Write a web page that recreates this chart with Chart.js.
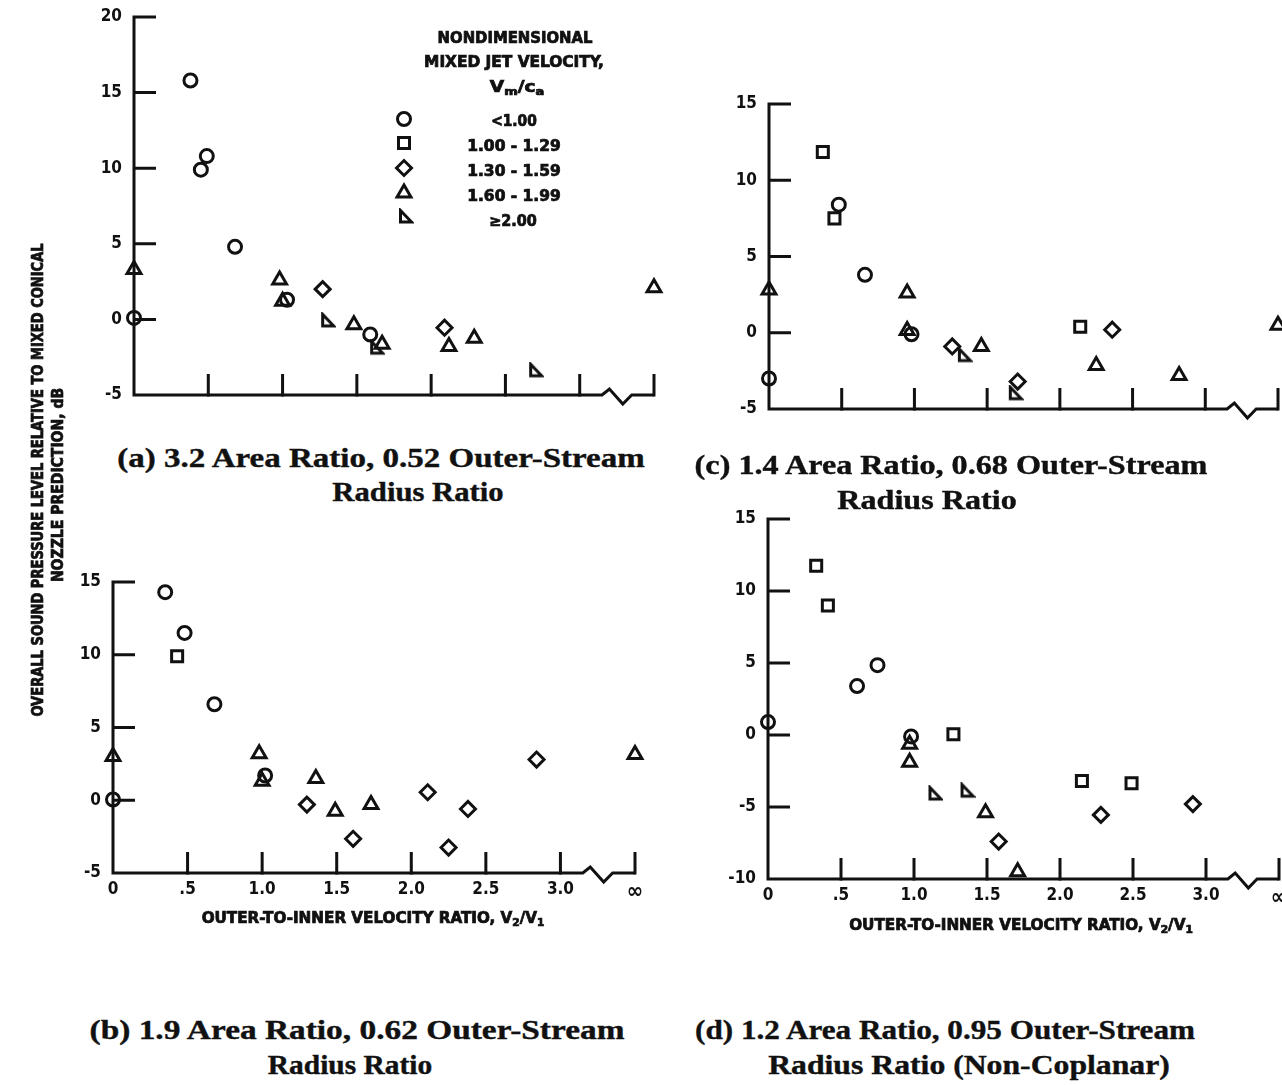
<!DOCTYPE html>
<html><head><meta charset="utf-8">
<script src="https://cdn.jsdelivr.net/npm/chart.js"></script>
<style>
html,body{margin:0;padding:0;background:#fff;}
body{width:1282px;height:1085px;position:relative;overflow:hidden;}
.box{position:absolute;}
.t{position:absolute;white-space:nowrap;color:#111;line-height:1;}
.cap{font-family:'Liberation Serif','Times New Roman',serif;font-weight:bold;font-size:28px;-webkit-text-stroke:0.4px #111;}
.sans{font-family:'DejaVu Sans Condensed','DejaVu Sans',sans-serif;font-weight:bold;font-size:15px;-webkit-text-stroke:0.7px #111;}
.sans sub{font-size:0.7em;vertical-align:-0.3em;line-height:0;}
</style></head><body>

<div class="box" style="left:60px;top:0px;"><canvas id="ca" width="640" height="420"></canvas></div>
<div class="box" style="left:700px;top:60px;"><canvas id="cc" width="582" height="380"></canvas></div>
<div class="box" style="left:40px;top:540px;"><canvas id="cb" width="620" height="400"></canvas></div>
<div class="box" style="left:700px;top:480px;"><canvas id="cd" width="582" height="470"></canvas></div>

<!-- legend text -->
<div class="t sans" data-cx="515" data-cy="38" data-w="155">NONDIMENSIONAL</div>
<div class="t sans" data-cx="514" data-cy="62" data-w="180">MIXED JET VELOCITY,</div>
<div class="t sans" data-cx="517" data-cy="87" data-w="55">V<sub>m</sub>/c<sub>a</sub></div>
<div class="t sans" data-cx="514" data-cy="121" data-w="46">&lt;1.00</div>
<div class="t sans" data-cx="514" data-cy="146" data-w="94">1.00 - 1.29</div>
<div class="t sans" data-cx="514" data-cy="171" data-w="94">1.30 - 1.59</div>
<div class="t sans" data-cx="514" data-cy="196" data-w="94">1.60 - 1.99</div>
<div class="t sans" data-cx="513" data-cy="221" data-w="48">≥2.00</div>

<!-- y axis title -->
<div class="t sans" data-cx="38" data-cy="480" data-w="473" data-rot="-90">OVERALL SOUND PRESSURE LEVEL RELATIVE TO MIXED CONICAL</div>
<div class="t sans" data-cx="58" data-cy="485" data-w="194" data-rot="-90">NOZZLE PREDICTION, dB</div>

<!-- x axis titles -->
<div class="t sans" data-cx="373" data-cy="918" data-w="343">OUTER-TO-INNER VELOCITY RATIO, V<sub>2</sub>/V<sub>1</sub></div>
<div class="t sans" data-cx="1021" data-cy="925" data-w="344">OUTER-TO-INNER VELOCITY RATIO, V<sub>2</sub>/V<sub>1</sub></div>

<!-- captions -->
<div class="t cap" data-cx="381" data-cy="458" data-w="527">(a) 3.2 Area Ratio, 0.52 Outer-Stream</div>
<div class="t cap" data-cx="418" data-cy="492" data-w="171">Radius Ratio</div>
<div class="t cap" data-cx="951" data-cy="465" data-w="513">(c) 1.4 Area Ratio, 0.68 Outer-Stream</div>
<div class="t cap" data-cx="927" data-cy="500" data-w="179">Radius Ratio</div>
<div class="t cap" data-cx="357" data-cy="1030" data-w="535">(b) 1.9 Area Ratio, 0.62 Outer-Stream</div>
<div class="t cap" data-cx="350" data-cy="1065" data-w="164">Radius Ratio</div>
<div class="t cap" data-cx="945" data-cy="1030" data-w="500">(d) 1.2 Area Ratio, 0.95 Outer-Stream</div>
<div class="t cap" data-cx="969" data-cy="1065" data-w="402">Radius Ratio (Non-Coplanar)</div>

<script>
// ---------------- DATA ----------------
const categories = ['<1.00', '1.00 - 1.29', '1.30 - 1.59', '1.60 - 1.99', '≥2.00'];
const xTickValues = [0, 0.5, 1.0, 1.5, 2.0, 2.5, 3.0, 3.5];
const xTickLabels = ['0', '.5', '1.0', '1.5', '2.0', '2.5', '3.0', '∞'];
const INF = 3.5; // x position used for the "∞" column

// panel (a) 3.2 area ratio
const aCircle   = [{x:0,y:0.1},{x:0.38,y:15.8},{x:0.45,y:9.9},{x:0.49,y:10.8},{x:0.68,y:4.8},{x:1.03,y:1.3},{x:1.59,y:-1.0}];
const aSquare   = [];
const aDiamond  = [{x:1.27,y:2.0},{x:2.09,y:-0.55}];
const aTriangle = [{x:0,y:3.3},{x:0.98,y:2.6},{x:1.0,y:1.2},{x:1.48,y:-0.35},{x:1.67,y:-1.65},{x:2.12,y:-1.8},{x:2.29,y:-1.25},{x:INF,y:2.1}];
const aFlag     = [{x:1.30,y:-0.1},{x:1.63,y:-1.9},{x:2.70,y:-3.4}];

// panel (c) 1.4 area ratio
const cCircle   = [{x:0,y:-3.0},{x:0.48,y:8.4},{x:0.66,y:3.8},{x:0.98,y:-0.1}];
const cSquare   = [{x:0.37,y:11.85},{x:0.45,y:7.5},{x:2.14,y:0.4}];
const cDiamond  = [{x:1.26,y:-0.9},{x:1.71,y:-3.2},{x:2.36,y:0.2}];
const cTriangle = [{x:0,y:2.8},{x:0.95,y:2.6},{x:0.95,y:0.15},{x:1.46,y:-0.9},{x:2.25,y:-2.15},{x:2.82,y:-2.8},{x:INF,y:0.5}];
const cFlag     = [{x:1.34,y:-1.5},{x:1.69,y:-4.0}];

// panel (b) 1.9 area ratio
const bCircle   = [{x:0,y:0.05},{x:0.35,y:14.3},{x:0.48,y:11.5},{x:0.68,y:6.6},{x:1.02,y:1.7}];
const bSquare   = [{x:0.43,y:9.9}];
const bDiamond  = [{x:1.30,y:-0.3},{x:1.61,y:-2.65},{x:2.11,y:0.55},{x:2.25,y:-3.25},{x:2.38,y:-0.6},{x:2.84,y:2.8}];
const bTriangle = [{x:0,y:3.0},{x:0.98,y:3.2},{x:1.0,y:1.3},{x:1.36,y:1.5},{x:1.49,y:-0.75},{x:1.73,y:-0.3},{x:INF,y:3.15}];
const bFlag     = [];

// panel (d) 1.2 area ratio, non-coplanar
const dCircle   = [{x:0,y:0.9},{x:0.61,y:3.4},{x:0.75,y:4.85},{x:0.98,y:-0.1}];
const dSquare   = [{x:0.33,y:11.75},{x:0.41,y:9.0},{x:1.27,y:0.05},{x:2.15,y:-3.2},{x:2.49,y:-3.35}];
const dDiamond  = [{x:1.58,y:-7.4},{x:2.28,y:-5.55},{x:2.91,y:-4.8}];
const dTriangle = [{x:0.97,y:-0.65},{x:0.97,y:-1.9},{x:1.49,y:-5.4},{x:1.71,y:-9.5}];
const dFlag     = [{x:1.14,y:-4.1},{x:1.36,y:-3.9}];

// ---------------- STYLE ----------------
const INK = '#111';
const FAMILY = "'Liberation Sans Narrow','DejaVu Sans Condensed','DejaVu Sans',sans-serif";
const TICK_FONT = {family: FAMILY, size: 17, weight: 'bold'};
const INF_FONT = {family: FAMILY, size: 22, weight: 'bold'};
const LW = 3;

function makeFlag(){
  const c = document.createElement('canvas'); c.width = 18; c.height = 18;
  const g = c.getContext('2d');
  g.strokeStyle = INK; g.lineWidth = LW; g.lineJoin = 'miter';
  g.beginPath(); g.moveTo(4.5,2.5); g.lineTo(4.5,14); g.lineTo(15.5,14); g.closePath(); g.stroke();
  return c;
}
const FLAG = makeFlag();
const pointStyles = ['circle','rect','rectRot','triangle',FLAG];
const pointRadii  = [6.5, 7.8, 7.5, 8, 8];

function drawSymbol(ctx, i, x, y){
  const st = pointStyles[i];
  ctx.save();
  ctx.strokeStyle = INK; ctx.fillStyle = 'rgba(0,0,0,0)'; ctx.lineWidth = LW;
  if (typeof st !== 'string') { ctx.drawImage(st, x - st.width/2, y - st.height/2); ctx.restore(); return; }
  if (Chart.helpers && Chart.helpers.drawPoint) {
    Chart.helpers.drawPoint(ctx, {pointStyle: st, rotation: 0, radius: pointRadii[i], borderWidth: LW}, x, y);
  } else {
    const r = pointRadii[i];
    ctx.beginPath();
    if (st === 'circle') ctx.arc(x, y, r, 0, Math.PI*2);
    else if (st === 'rect') { const s = r*Math.SQRT1_2; ctx.rect(x-s, y-s, 2*s, 2*s); }
    else if (st === 'rectRot') { ctx.moveTo(x-r,y); ctx.lineTo(x,y-r); ctx.lineTo(x+r,y); ctx.lineTo(x,y+r); ctx.closePath(); }
    else { ctx.moveTo(x, y-r); ctx.lineTo(x+r*0.866, y+r/2); ctx.lineTo(x-r*0.866, y+r/2); ctx.closePath(); }
    ctx.stroke();
  }
  ctx.restore();
}

// axis break geometry (x in data units, dy in px)
const BREAK = [[3.15,0],[3.20,-6],[3.29,9],[3.35,0]];

function axesPlugin(){
  return {
    id: 'axesDraw',
    afterDatasetsDraw(chart){
      const {ctx} = chart; const x = chart.scales.x, y = chart.scales.y;
      const x0 = x.getPixelForValue(0);
      const yb = y.getPixelForValue(y.min), yt = y.getPixelForValue(y.max);
      ctx.save();
      ctx.strokeStyle = INK; ctx.lineWidth = 3; ctx.lineCap = 'butt'; ctx.lineJoin = 'miter';
      ctx.beginPath();
      ctx.moveTo(x0 + 22, yt); ctx.lineTo(x0, yt); ctx.lineTo(x0, yb);
      BREAK.forEach(p => ctx.lineTo(x.getPixelForValue(p[0]), yb + p[1]));
      ctx.lineTo(x.getPixelForValue(INF), yb);
      ctx.stroke();
      // inward y tick marks
      ctx.beginPath();
      y.ticks.forEach(t => {
        if (t.value === y.min || t.value === y.max) return;
        const py = y.getPixelForValue(t.value);
        ctx.moveTo(x0, py); ctx.lineTo(x0 + 22, py);
      });
      // inward x tick marks
      xTickValues.forEach(v => {
        if (v === 0) return;
        const px = x.getPixelForValue(v);
        ctx.moveTo(px, yb + 1.5); ctx.lineTo(px, yb - 21);
      });
      ctx.stroke();
      ctx.restore();
    }
  };
}

const LEGEND_POS = [[344,119],[344,143],[344,168],[344,193],[345,217]];
const legendPlugin = {
  id: 'legendSymbols',
  afterDraw(chart){ LEGEND_POS.forEach((p,i) => drawSymbol(chart.ctx, i, p[0], p[1])); }
};

function makePanel(id, series, yMin, yMax, showX, pad, extra){
  const datasets = series.map((data, i) => ({
    label: categories[i], data, showLine: false, clip: false,
    pointStyle: pointStyles[i], pointRadius: pointRadii[i], pointBorderWidth: LW,
    borderColor: INK, backgroundColor: 'rgba(0,0,0,0)',
    pointBorderColor: INK, pointBackgroundColor: 'rgba(0,0,0,0)'
  }));
  return new Chart(document.getElementById(id), {
    type: 'scatter',
    data: {datasets},
    options: {
      responsive: false, animation: false, events: [],
      layout: {padding: pad, autoPadding: false},
      plugins: {legend: {display: false}, tooltip: {enabled: false}},
      scales: {
        x: {
          type: 'linear', min: 0, max: INF, display: showX,
          grid: {display: false, drawTicks: false}, border: {display: false},
          ticks: {stepSize: 0.5, autoSkip: false, maxRotation: 0, padding: 6, color: INK,
            font: (c) => (c.tick && Math.abs(c.tick.value - INF) < 1e-6) ? INF_FONT : TICK_FONT,
            callback: (v) => { const k = xTickValues.findIndex(t => Math.abs(t - v) < 1e-6); return k < 0 ? '' : xTickLabels[k]; }},
          afterFit: s => { s.height = showX ? 60 : 0; s.paddingLeft = 0; s.paddingRight = 0; }
        },
        y: {
          type: 'linear', min: yMin, max: yMax,
          grid: {display: false, drawTicks: false}, border: {display: false},
          ticks: {stepSize: 5, padding: 12, color: INK, font: TICK_FONT},
          afterFit: s => { s.width = 55; s.paddingTop = 0; s.paddingBottom = 0; }
        }
      }
    },
    plugins: [axesPlugin()].concat(extra || [])
  });
}

// chart areas: (a) l134 r654 t17 b395 ; (c) l769 r1278 t104 b409 ; (b) l113 r635 t582 b873 ; (d) l768 r1279 t519 b879
makePanel('ca', [aCircle,aSquare,aDiamond,aTriangle,aFlag], -5, 20, false, {left:19, top:17, right:46, bottom:25}, [legendPlugin]);
makePanel('cc', [cCircle,cSquare,cDiamond,cTriangle,cFlag], -5, 15, false, {left:14, top:44, right:4, bottom:31});
makePanel('cb', [bCircle,bSquare,bDiamond,bTriangle,bFlag], -5, 15, true, {left:18, top:42, right:25, bottom:7});
makePanel('cd', [dCircle,dSquare,dDiamond,dTriangle,dFlag], -10, 15, true, {left:13, top:39, right:3, bottom:11});

// ---------------- TEXT PLACEMENT ----------------
document.querySelectorAll('.t').forEach(el => {
  const cx = +el.dataset.cx, cy = +el.dataset.cy, w = +el.dataset.w, rot = +(el.dataset.rot || 0);
  el.style.left = cx + 'px'; el.style.top = cy + 'px';
  const k = w ? w / el.offsetWidth : 1;
  el.style.transform = `translate(-50%,-50%) rotate(${rot}deg) scale(${k},1)`;
});
</script>
</body></html>
